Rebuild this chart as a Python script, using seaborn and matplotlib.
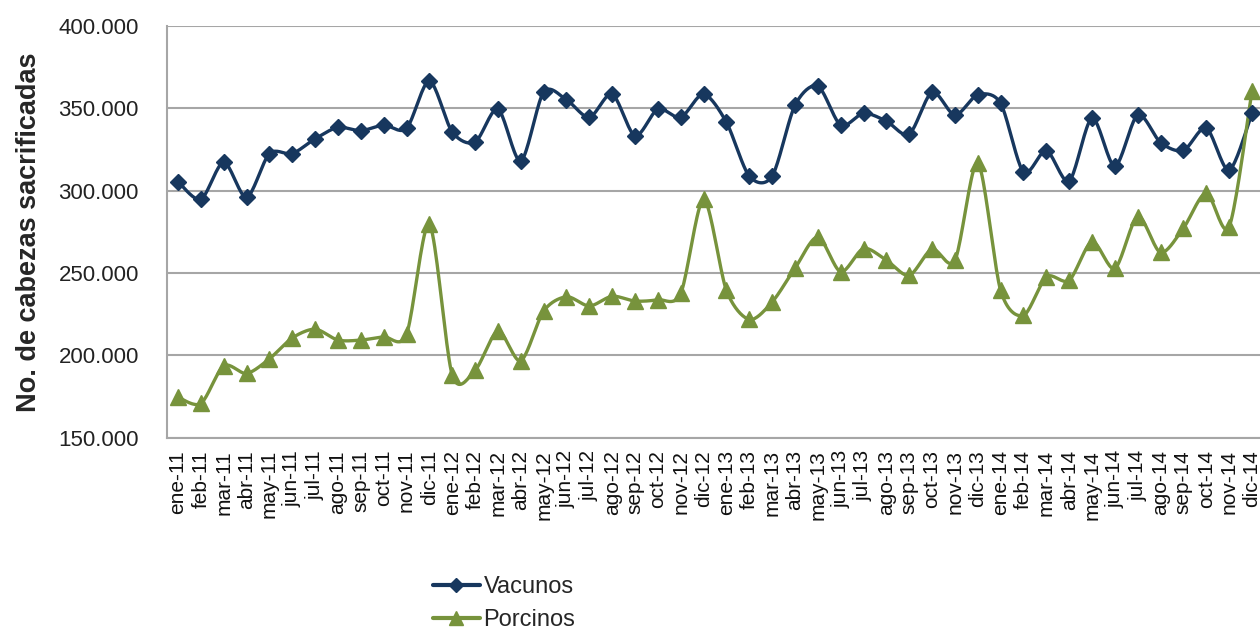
import numpy as np
import pandas as pd
import matplotlib
matplotlib.use("Agg")
import matplotlib.pyplot as plt
from matplotlib.lines import Line2D
from matplotlib.ticker import FuncFormatter
import seaborn as sns

# ---- data (thousands of heads) ----
months = ["ene", "feb", "mar", "abr", "may", "jun", "jul", "ago", "sep", "oct", "nov", "dic"]
years = ["11", "12", "13", "14"]
categories = [f"{m}-{y}" for y in years for m in months]

vacunos = [305.5, 294.7, 317.2, 295.9, 322.5, 322.5, 331.5, 338.4, 336.4, 339.8, 337.8, 366.6,
           335.6, 329.5, 349.5, 318.0, 359.8, 355.2, 344.5, 358.6, 333.3, 349.5, 344.5, 358.6,
           341.5, 308.8, 308.8, 351.8, 363.5, 339.8, 347.0, 342.2, 334.3, 359.8, 345.9, 358.2,
           353.0, 311.3, 324.3, 305.8, 344.0, 314.8, 346.0, 329.2, 324.4, 338.0, 312.4, 347.0]

porcinos = [174.5, 170.7, 193.5, 188.9, 197.8, 210.5, 215.8, 209.2, 209.2, 211.2, 212.8, 279.5,
            188.0, 190.8, 214.6, 196.6, 226.8, 235.5, 229.9, 235.8, 232.9, 233.7, 237.6, 294.6,
            239.4, 221.7, 232.3, 252.8, 271.8, 250.7, 264.8, 257.7, 248.5, 264.5, 257.7, 316.8,
            239.4, 224.2, 247.6, 245.5, 268.9, 252.7, 284.2, 262.4, 277.2, 298.5, 278.0, 360.5]

series_names = ["Vacunos", "Porcinos"]
colors = {"Vacunos": "#17375E", "Porcinos": "#77933C"}
markers = {"Vacunos": "D", "Porcinos": "^"}
msizes = {"Vacunos": 8, "Porcinos": 11}


def smooth(x, y, n=20, k=6.0):
    """Excel-like smoothed line (Bezier with Catmull-Rom tangents) through the points."""
    x = np.asarray(x, float)
    y = np.asarray(y, float)
    px = np.concatenate([[x[0]], x, [x[-1]]])
    py = np.concatenate([[y[0]], y, [y[-1]]])
    xs, ys = [], []
    t = np.linspace(0, 1, n, endpoint=False)
    for i in range(1, len(px) - 2):
        p0x, p1x, p2x, p3x = px[i - 1], px[i], px[i + 1], px[i + 2]
        p0y, p1y, p2y, p3y = py[i - 1], py[i], py[i + 1], py[i + 2]
        c1x, c1y = p1x + (p2x - p0x) / k, p1y + (p2y - p0y) / k
        c2x, c2y = p2x - (p3x - p1x) / k, p2y - (p3y - p1y) / k
        bx = (1 - t) ** 3 * p1x + 3 * (1 - t) ** 2 * t * c1x + 3 * (1 - t) * t ** 2 * c2x + t ** 3 * p2x
        by = (1 - t) ** 3 * p1y + 3 * (1 - t) ** 2 * t * c1y + 3 * (1 - t) * t ** 2 * c2y + t ** 3 * p2y
        xs.append(bx)
        ys.append(by)
    xs.append([x[-1]])
    ys.append([y[-1]])
    return np.concatenate(xs), np.concatenate(ys)


sns.set_theme(style="white")
plt.rcParams["font.family"] = ["Liberation Sans", "DejaVu Sans"]

fig = plt.figure(figsize=(12.6, 6.32), dpi=100)
ax = fig.add_axes([166.6 / 1260, (632 - 437.5) / 632, 1096.8 / 1260, (437.5 - 26) / 632])

xpos = np.arange(len(categories))
for name, vals in zip(series_names, [vacunos, porcinos]):
    sx, sy = smooth(xpos, np.array(vals) * 1000, k=7.0)
    df = pd.DataFrame({"x": sx, "y": sy})
    sns.lineplot(data=df, x="x", y="y", ax=ax, color=colors[name], lw=2.4,
                 estimator=None, sort=False, zorder=3)
    ax.plot(xpos, np.array(vals) * 1000, linestyle="none", marker=markers[name],
            ms=msizes[name], color=colors[name], mec=colors[name], zorder=4, clip_on=False)

ax.set_xlim(-0.5, len(categories) - 0.5)
ax.set_ylim(150000, 400000)
ax.set_yticks(np.arange(150000, 400001, 50000))
ax.yaxis.set_major_formatter(FuncFormatter(lambda v, p: f"{int(v):,}".replace(",", ".")))
ax.set_xticks(xpos)
ax.set_xticklabels(categories, rotation=90, fontsize=15, color="#111111")
ax.tick_params(axis="y", labelsize=16, labelcolor="#222222", length=6, width=1.2,
               color="#A6A6A6", direction="out", pad=14)
ax.tick_params(axis="x", length=0, pad=9)
ax.grid(axis="y", color="#A6A6A6", lw=1.5)
ax.set_axisbelow(True)
for s in ["top", "right"]:
    ax.spines[s].set_visible(False)
for s in ["left", "bottom"]:
    ax.spines[s].set_color("#A6A6A6")
    ax.spines[s].set_linewidth(1.5)
ax.set_xlabel("")
ax.set_ylabel("No. de cabezas sacrificadas", fontsize=19.5, fontweight="bold", labelpad=12)

handles = [Line2D([0], [0], color=colors[n], lw=3, marker=markers[n],
                  ms=msizes[n] - 1, label=n) for n in series_names]
fig.legend(handles=handles, loc="center left", bbox_to_anchor=(0.336, 0.045),
           frameon=False, fontsize=17, handlelength=2.0, handletextpad=0.15,
           labelspacing=0.45, borderaxespad=0)

fig.savefig("out.png", dpi=100)
